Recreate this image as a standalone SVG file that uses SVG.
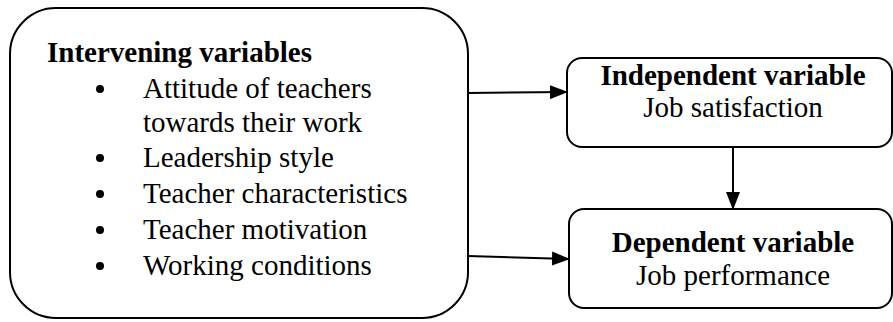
<svg xmlns="http://www.w3.org/2000/svg" width="893" height="322" viewBox="0 0 893 322">
<style>
.box{fill:#fff;stroke:#000;stroke-width:2}
.t{font-family:'Liberation Serif','Times New Roman',Tinos,'DejaVu Serif',serif;font-size:29px;fill:#000}
.b{font-weight:bold}
.c{text-anchor:middle}
.conn line{stroke:#000;stroke-width:2}
</style>
<defs>
<marker id="ah" markerWidth="18" markerHeight="14" refX="17" refY="7" orient="auto" markerUnits="userSpaceOnUse">
<path d="M0,0 L18,7 L0,14 Z" fill="#000"/>
</marker>
</defs>
<g id="intervening">
<rect class="box" x="10" y="8" width="458" height="310" rx="46" ry="46"/>
<text class="t b" x="47" y="62" font-family="Liberation Serif, serif">Intervening variables</text>
<g class="t">
<circle cx="100" cy="89" r="4"/>
<text x="143" y="98">Attitude of teachers</text>
<text x="143" y="132">towards their work</text>
<circle cx="100" cy="158" r="4"/>
<text x="143" y="167">Leadership style</text>
<circle cx="100" cy="194" r="4"/>
<text x="143" y="203">Teacher characteristics</text>
<circle cx="100" cy="230" r="4"/>
<text x="143" y="239">Teacher motivation</text>
<circle cx="100" cy="266" r="4"/>
<text x="143" y="275">Working conditions</text>
</g>
</g>
<g id="independent">
<rect class="box" x="567" y="58" width="325" height="89" rx="15" ry="15"/>
<text class="t b c" x="733" y="85">Independent variable</text>
<text class="t c" x="733" y="117">Job satisfaction</text>
</g>
<g id="dependent">
<rect class="box" x="569" y="209" width="323" height="99" rx="15" ry="15"/>
<text class="t b c" x="733" y="252">Dependent variable</text>
<text class="t c" x="733" y="285">Job performance</text>
</g>
<g class="conn">
<line x1="468" y1="93" x2="567" y2="92" marker-end="url(#ah)"/>
<line x1="468" y1="256" x2="569" y2="259" marker-end="url(#ah)"/>
<line x1="733" y1="147" x2="733" y2="209" marker-end="url(#ah)"/>
</g>
</svg>
